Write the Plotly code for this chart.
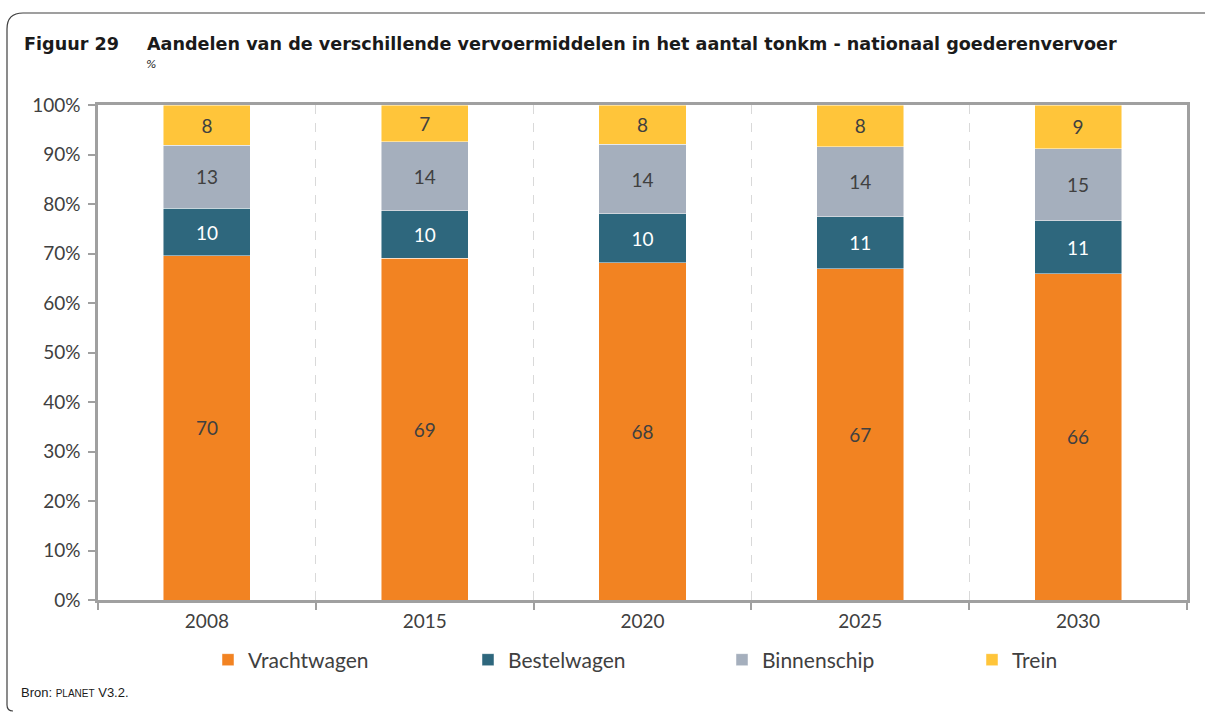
import plotly.graph_objects as go

years = ["2008", "2015", "2020", "2025", "2030"]
vrachtwagen = [69.5, 69.0, 68.1, 66.9, 65.9]
bestelwagen = [9.6, 9.6, 9.9, 10.5, 10.7]
binnenschip = [12.8, 14.0, 14.1, 14.2, 14.6]
trein = [8.1, 7.4, 7.9, 8.4, 8.8]

series = [
    ("Vrachtwagen", vrachtwagen, "#F28322", "#404040"),
    ("Bestelwagen", bestelwagen, "#2E677D", "#FFFFFF"),
    ("Binnenschip", binnenschip, "#A5AFBD", "#404040"),
    ("Trein", trein, "#FFC53A", "#404040"),
]
legend_left_px = [208, 468, 722, 972]

W, H = 1205, 713
L, R, T, B = 98, 18, 105, 113
PW, PH = W - L - R, H - T - B

def px(x):
    return (x - L) / PW

def py(y):
    return (H - B - y) / PH

fig = go.Figure()
legend_font = dict(family="Lato, Open Sans, sans-serif", size=21, color="#404040")
legends = {}
for i, (name, vals, col, tcol) in enumerate(series):
    lname = "legend" if i == 0 else f"legend{i + 1}"
    fig.add_trace(go.Bar(
        x=years, y=vals, name=name, legend=lname,
        marker=dict(color=col, line=dict(color="rgba(255,255,255,0.6)", width=0.8)),
        texttemplate="%{y:.0f}", textposition="inside", insidetextanchor="middle",
        textfont=dict(family="Lato, Open Sans, sans-serif", size=19, color=tcol),
        width=0.4,
    ))
    legends[lname] = dict(
        orientation="h", x=px(legend_left_px[i]), xanchor="left", y=py(660), yanchor="middle",
        font=legend_font, itemwidth=30, bgcolor="rgba(0,0,0,0)",
    )

font_ax = dict(family="Lato, Open Sans, sans-serif", size=19, color="#404040")

fig.update_layout(
    width=W, height=H,
    barmode="stack",
    paper_bgcolor="white", plot_bgcolor="white",
    margin=dict(l=L, r=R, t=T, b=B),
    showlegend=True,
    xaxis=dict(
        type="category", tickson="boundaries",
        showline=True, linecolor="#A0A0A0", linewidth=2.5, mirror=True,
        ticks="outside", ticklen=7, tickwidth=2, tickcolor="#A0A0A0",
        showgrid=True, gridcolor="#D9D9D9", griddash="dash", gridwidth=1,
        tickfont=font_ax, ticklabelstandoff=2,
    ),
    yaxis=dict(
        range=[0, 100], dtick=10, ticksuffix="%",
        showline=True, linecolor="#A0A0A0", linewidth=2.5, mirror=True,
        ticks="outside", ticklen=7, tickwidth=2, tickcolor="#A0A0A0",
        showgrid=False, zeroline=False,
        tickfont=font_ax, ticklabelstandoff=4,
    ),
    bargap=0.6,
    **legends,
)

title_font = dict(family="DejaVu Sans, sans-serif", size=17.6, color="#1A1A1A")
fig.add_annotation(xref="paper", yref="paper", x=px(22), y=py(44), xanchor="left", yanchor="middle",
                   text="<b>Figuur 29</b>", showarrow=False, font=title_font)
fig.add_annotation(xref="paper", yref="paper", x=px(145), y=py(44), xanchor="left", yanchor="middle",
                   text="<b>Aandelen van de verschillende vervoermiddelen in het aantal tonkm - nationaal goederenvervoer</b>",
                   showarrow=False, font=title_font)
fig.add_annotation(xref="paper", yref="paper", x=px(144), y=py(65), xanchor="left", yanchor="middle",
                   text="<i>%</i>", showarrow=False,
                   font=dict(family="DejaVu Sans, sans-serif", size=11, color="#1A1A1A"))
fig.add_annotation(xref="paper", yref="paper", x=px(19), y=py(692), xanchor="left", yanchor="middle",
                   text="Bron: <span style='font-size:10px'>PLANET</span> V3.2.", showarrow=False,
                   font=dict(family="Liberation Sans, Arial, sans-serif", size=13, color="#1A1A1A"))

# outer rounded frame
x0, y0, r1 = 7, 13, 16
yb, r2 = 711, 6
path = (f"M {px(1230)},{py(y0)} L {px(x0 + r1)},{py(y0)} "
        f"Q {px(x0)},{py(y0)} {px(x0)},{py(y0 + r1)} "
        f"L {px(x0)},{py(yb - r2)} Q {px(x0)},{py(yb)} {px(x0 + r2)},{py(yb)}")
fig.add_shape(type="path", xref="paper", yref="paper", path=path,
              line=dict(color="#404040", width=1.2))

fig.write_html("out.html", config={"displayModeBar": False},
               post_script="document.body.style.margin='0px';document.body.style.overflow='hidden';")
